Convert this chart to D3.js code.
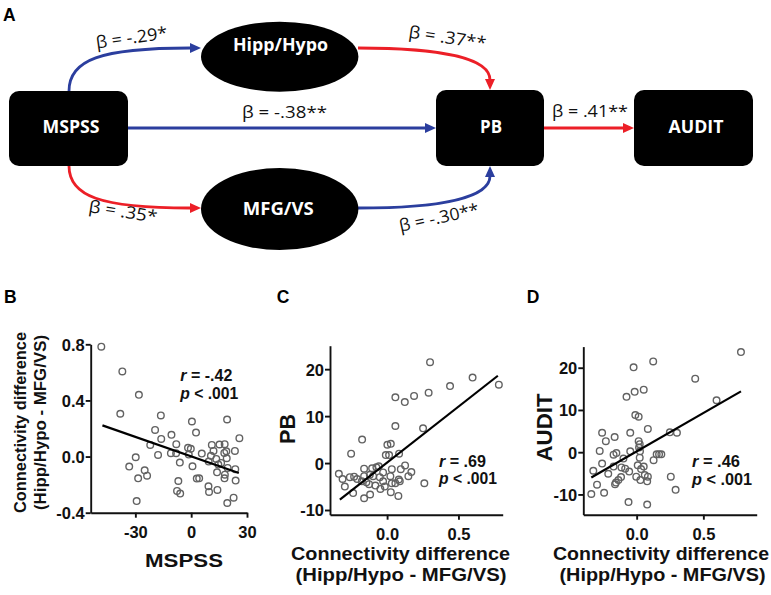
<!DOCTYPE html>
<html><head><meta charset="utf-8">
<script src="https://cdn.jsdelivr.net/npm/d3@7"></script>
<style>body{margin:0;background:#fff}svg{display:block}</style>
</head><body><svg id="c" width="771" height="595"></svg>
<script>
// ---------------- DATA ----------------
// Panel A: path model
const nodeNames = ["MSPSS", "Hipp/Hypo", "MFG/VS", "PB", "AUDIT"];
const betaLabels = ["β = -.29*", "β = -.38**", "β = .35*", "β = .37**", "β = -.30**", "β = .41**"];
const betaValues = [-0.29, -0.38, 0.35, 0.37, -0.30, 0.41];

// Panel B: MSPSS vs connectivity difference
const mspssB = [-48.3,-37.0,-28.1,-38.1,-16.3,0.4,19.3,2.6,-19.4,-10.6,-16.1,25.9,-22.0,-8.0,-1.7,-0.2,11.1,15.2,18.0,23.5,-17.8,-10.9,-8.1,-1.3,5.7,10.6,12.0,17.8,18.9,-29.8,-33.3,-25.0,-23.7,-28.5,-6.1,0.7,9.4,13.5,14.6,16.1,19.1,19.6,23.7,13.9,18.1,17.9,23.9,-6.9,3.0,4.3,9.3,9.6,14.1,-7.6,-5.9,-29.3,19.4,22.8];
const connB  = [0.783,0.607,0.44,0.305,0.293,0.25,0.264,0.171,0.19,0.155,0.126,0.131,0.083,0.088,0.062,0.055,0.083,0.086,0.088,0.04,0.012,0.024,0.024,0.014,0.021,0.005,0.04,0.026,0.038,-0.005,-0.071,-0.098,-0.136,-0.155,-0.043,-0.069,-0.036,-0.017,-0.057,-0.045,-0.012,-0.081,-0.09,-0.112,-0.129,-0.155,-0.171,-0.174,-0.157,-0.155,-0.212,-0.252,-0.238,-0.245,-0.264,-0.317,-0.331,-0.293];
const fitBx = [-47.7, 25.6], fitBy = [0.222, -0.117];
const bXTicks = [-30, 0, 30], bXTickLabels = ["-30", "0", "30"];
const bYTicks = [-0.4, 0, 0.4, 0.8], bYTickLabels = ["-0.4", "0.0", "0.4", "0.8"];

// Panel C: connectivity difference vs PB
const connC = [0.301,0.599,0.783,0.441,0.291,0.189,0.058,0.124,0.058,0.252,-0.175,0.002,0.026,-0.252,-0.009,0.014,0.084,-0.338,-0.312,-0.296,-0.261,-0.231,-0.238,-0.161,-0.161,-0.177,-0.145,-0.161,-0.119,-0.105,-0.075,-0.058,-0.098,-0.051,-0.082,-0.047,-0.016,0.023,0.033,0.033,0.026,0.058,0.082,0.096,0.126,0.149,0.17,0.079,0.261,-0.126,-0.028,-0.21,0.089,-0.121,-0.028];
const pbC   = [21.5,18.2,16.7,16.4,15.0,14.3,14.0,13.0,7.9,7.4,5.0,3.9,4.1,2.0,1.7,1.7,2.0,-2.3,-3.4,-5.0,-3.0,-2.9,-6.4,-1.2,-2.8,-3.9,-4.1,-7.5,-6.7,-1.1,-0.9,-0.7,-2.8,-3.0,-4.8,-5.5,-5.0,-2.8,-1.3,-4.3,-6.2,-4.3,-3.5,-1.3,-0.5,-2.8,-1.9,-7.0,-4.3,-4.5,-3.9,-3.4,-3.9,-2.5,-2.0];
const fitCx = [-0.331, 0.776], fitCy = [-7.8, 18.6];

// Panel D: connectivity difference vs AUDIT
const connD  = [0.782,0.124,-0.023,0.439,0.053,-0.015,-0.076,0.599,-0.01,0.015,0.084,-0.259,-0.048,0.249,0.302,-0.231,-0.165,0.015,0.023,-0.277,-0.173,-0.152,-0.048,0.025,0.023,0.127,0.15,0.168,0.185,-0.325,-0.259,-0.297,-0.34,-0.244,-0.213,-0.173,-0.155,-0.137,-0.117,-0.162,-0.099,-0.114,-0.086,-0.056,-0.061,0.008,-0.003,0.033,0.053,0.028,0.061,0.084,0.079,0.079,0.256,0.292,0.018];
const auditD = [23.7,21.5,20.1,17.4,14.8,14.3,13.1,12.3,8.8,8.4,5.5,4.6,4.6,4.7,4.6,2.6,3.6,2.6,1.9,0.3,-0.6,-0.2,0.2,0.2,-1.3,-1.9,-0.5,-0.5,-0.5,-4.4,-2.7,-7.7,-9.9,-9.6,-5.1,-3.4,-7.2,-6.6,-5.9,-7.6,-1.5,-3.6,-3.9,-4.6,-11.8,-3.1,-5.8,-4.0,-3.4,-6.6,-5.4,-5.8,-6.9,-12.4,-5.8,-8.9,1.1];
const fitDx = [-0.34, 0.782], fitDy = [-6.0, 14.4];

const connTicks = [0, 0.5], connTickLabels = ["0.0", "0.5"];
const pbTicks = [-10, 0, 10, 20], auditTicks = [-10, 0, 10, 20];
const statsB = ["-.42", ".001"], statsC = [".69", ".001"], statsD = [".46", ".001"];

// ---------------- DRAW ----------------
const svg = d3.select("#c");
const BLUE = "#2b3e9e", RED = "#ec1f27";
const SANS = "'Liberation Sans', Arial, sans-serif";
const DIAG = "'Open Sans', 'Noto Sans', sans-serif";

// Panel letters
[["A", 3, 20.7], ["B", 4, 303.3], ["C", 276.7, 303.3], ["D", 526.7, 303.3]].forEach(([t, x, y]) =>
  svg.append("text").attr("x", x).attr("y", y).text(t)
    .attr("font-family", SANS).attr("font-weight", "bold").attr("font-size", 17.5).attr("fill", "#000"));

// ---- Panel A ----
const gA = svg.append("g");
const colorOf = v => v < 0 ? BLUE : RED;
const edges = [
  {i: 0, pts: [[69, 91], [69, 60], [100, 48], [190, 48]], tip: [201, 48], dir: [1, 0]},
  {i: 1, pts: [[128, 128], [128, 128], [425, 128], [425, 128]], tip: [436, 128], dir: [1, 0]},
  {i: 2, pts: [[69, 166], [69, 196], [100, 208], [190, 208]], tip: [201, 208], dir: [1, 0]},
  {i: 3, pts: [[358, 48], [440, 48], [490, 58], [490, 80]], tip: [490, 90], dir: [0, 1]},
  {i: 4, pts: [[358, 208], [440, 208], [490, 198], [490, 176]], tip: [490, 166], dir: [0, -1]},
  {i: 5, pts: [[544, 128], [544, 128], [623, 128], [623, 128]], tip: [634, 128], dir: [1, 0]}
];
edges.forEach(e => {
  const p = d3.path();
  p.moveTo(...e.pts[0]);
  p.bezierCurveTo(...e.pts[1], ...e.pts[2], ...e.pts[3]);
  const c = colorOf(betaValues[e.i]);
  gA.append("path").attr("d", p.toString()).attr("fill", "none").attr("stroke", c).attr("stroke-width", 2.8);
  const [tx, ty] = e.tip, [dx, dy] = e.dir, L = 11, W = 5;
  const bx = tx - dx * L, by = ty - dy * L;
  gA.append("path").attr("fill", c)
    .attr("d", `M${tx},${ty}L${bx - dy * W},${by + dx * W}L${bx + dy * W},${by - dx * W}Z`);
});
// nodes
const boxes = [[0, 9, 91, 119, 75], [3, 436, 90, 108, 76], [4, 634, 90, 119, 76]];
boxes.forEach(([k, x, y, w, h]) =>
  gA.append("rect").attr("x", x).attr("y", y).attr("width", w).attr("height", h).attr("rx", 10).attr("fill", "#000"));
const ells = [[1, 279.7, 56.7, 78.7, 35], [2, 279.7, 209, 78.7, 41]];
ells.forEach(([k, cx, cy, rx, ry]) =>
  gA.append("ellipse").attr("cx", cx).attr("cy", cy).attr("rx", rx).attr("ry", ry).attr("fill", "#000"));
const nodeText = [[0, 71, 133.3, 57], [1, 280.5, 50.7, 95], [2, 278.3, 215, 71], [3, 491, 132.7, 22], [4, 696, 132.7, 55]];
nodeText.forEach(([k, x, y, w]) =>
  gA.append("text").attr("x", x).attr("y", y).attr("text-anchor", "middle").text(nodeNames[k])
    .attr("font-family", DIAG).attr("font-weight", "bold").attr("font-size", 17.5).attr("fill", "#fff")
    .attr("textLength", w).attr("lengthAdjust", "spacingAndGlyphs"));
// beta labels: [index, cx, cy, angle, length]
const betaPos = [[0, 131.5, 37.5, -8, 72], [1, 284.5, 112.5, 0, 85], [2, 123, 211.5, 9, 69],
                 [3, 447.5, 37.5, 8.5, 78], [4, 439, 217.5, -12, 81], [5, 590, 111.5, 0, 76]];
betaPos.forEach(([k, x, y, a, w]) =>
  gA.append("text").attr("transform", `translate(${x},${y}) rotate(${a})`)
    .attr("text-anchor", "middle").attr("dy", "0.35em").text(betaLabels[k])
    .attr("font-family", DIAG).attr("font-size", 17).attr("fill", "#111")
    .attr("textLength", w).attr("lengthAdjust", "spacingAndGlyphs"));

// ---- Scatter panels ----
function scatter(o) {
  const g = svg.append("g");
  const x = d3.scaleLinear().domain(o.xd).range(o.xr);
  const y = d3.scaleLinear().domain(o.yd).range(o.yr);
  const xa = g.append("g").attr("transform", `translate(0,${o.yr[0]})`)
    .call(d3.axisBottom(x).tickValues(o.xt).tickFormat((d, i) => o.xl[i]).tickSize(5).tickSizeOuter(0).tickPadding(9));
  const ya = g.append("g").attr("transform", `translate(${o.xr[0]},0)`)
    .call(d3.axisLeft(y).tickValues(o.yt).tickFormat((d, i) => o.yl[i]).tickSize(5).tickSizeOuter(0).tickPadding(1));
  [xa, ya].forEach(a => {
    a.selectAll("path.domain,line").attr("stroke", "#111").attr("stroke-width", 1.9);
    a.selectAll("text").attr("font-family", SANS).attr("font-weight", "bold").attr("font-size", 16.5).attr("fill", "#111");
  });
  ya.selectAll("text").attr("dy", "0.36em");
  g.append("g").selectAll("circle").data(o.xs).join("circle")
    .attr("cx", d => x(d)).attr("cy", (d, i) => y(o.ys[i])).attr("r", 3.3)
    .attr("fill", "none").attr("stroke", "#626262").attr("stroke-width", 1.4);
  g.append("line").attr("x1", x(o.fx[0])).attr("y1", y(o.fy[0])).attr("x2", x(o.fx[1])).attr("y2", y(o.fy[1]))
    .attr("stroke", "#000").attr("stroke-width", 2.2);
  // stats
  const t1 = g.append("text").attr("x", o.sx).attr("y", o.sy[0]).attr("font-family", SANS).attr("font-weight", "bold")
    .attr("font-size", 16).attr("fill", "#111").attr("textLength", o.sw[0]).attr("lengthAdjust", "spacingAndGlyphs");
  t1.append("tspan").attr("font-style", "italic").text("r");
  t1.append("tspan").text(" = " + o.stats[0]);
  const t2 = g.append("text").attr("x", o.sx).attr("y", o.sy[1]).attr("font-family", SANS).attr("font-weight", "bold")
    .attr("font-size", 16).attr("fill", "#111").attr("textLength", o.sw[1]).attr("lengthAdjust", "spacingAndGlyphs");
  t2.append("tspan").attr("font-style", "italic").text("p");
  t2.append("tspan").text(" < " + o.stats[1]);
  // axis titles
  o.xTitle.forEach(([t, cx, by, fs, w]) =>
    g.append("text").attr("x", cx).attr("y", by).attr("text-anchor", "middle").text(t)
      .attr("font-family", SANS).attr("font-weight", "bold").attr("font-size", fs).attr("fill", "#111")
      .attr("textLength", w).attr("lengthAdjust", "spacingAndGlyphs"));
  o.yTitle.forEach(([t, bx, cy, fs, w]) =>
    g.append("text").attr("transform", `translate(${bx},${cy}) rotate(-90)`).attr("text-anchor", "middle").text(t)
      .attr("font-family", SANS).attr("font-weight", "bold").attr("font-size", fs).attr("fill", "#111")
      .attr("textLength", w).attr("lengthAdjust", "spacingAndGlyphs"));
}

scatter({
  xd: [-54, 30], xr: [90.7, 247], yd: [-0.4, 0.8], yr: [512.7, 344.3],
  xt: bXTicks, xl: bXTickLabels, yt: bYTicks, yl: bYTickLabels,
  xs: mspssB, ys: connB, fx: fitBx, fy: fitBy,
  stats: statsB, sx: 180.3, sy: [381, 399], sw: [52, 58],
  xTitle: [["MSPSS", 184, 566.5, 18.5, 78]],
  yTitle: [["Connectivity difference", 26, 422.5, 16.5, 181], ["(Hipp/Hypo - MFG/VS)", 46, 422.5, 16.5, 175]]
});
scatter({
  xd: [-0.4, 0.81], xr: [330, 502.7], yd: [-11, 25], yr: [514.7, 345.7],
  xt: connTicks, xl: connTickLabels, yt: pbTicks, yl: pbTicks.map(String),
  xs: connC, ys: pbC, fx: fitCx, fy: fitCy,
  stats: statsC, sx: 439, sy: [466.5, 484], sw: [47, 58],
  xTitle: [["Connectivity difference", 400.5, 559.5, 18, 219], ["(Hipp/Hypo - MFG/VS)", 401, 581.3, 18, 211]],
  yTitle: [["PB", 295, 429, 22, 30]]
});
scatter({
  xd: [-0.4, 0.9], xr: [583.3, 756.7], yd: [-14.8, 25], yr: [514.7, 346.6],
  xt: connTicks, xl: connTickLabels, yt: auditTicks, yl: auditTicks.map(String),
  xs: connD, ys: auditD, fx: fitDx, fy: fitDy,
  stats: statsD, sx: 692, sy: [466.5, 484.5], sw: [48, 60],
  xTitle: [["Connectivity difference", 661, 559.5, 18, 216], ["(Hipp/Hypo - MFG/VS)", 662.5, 581.3, 18, 206]],
  yTitle: [["AUDIT", 552, 427.5, 22, 68]]
});
</script></body></html>
